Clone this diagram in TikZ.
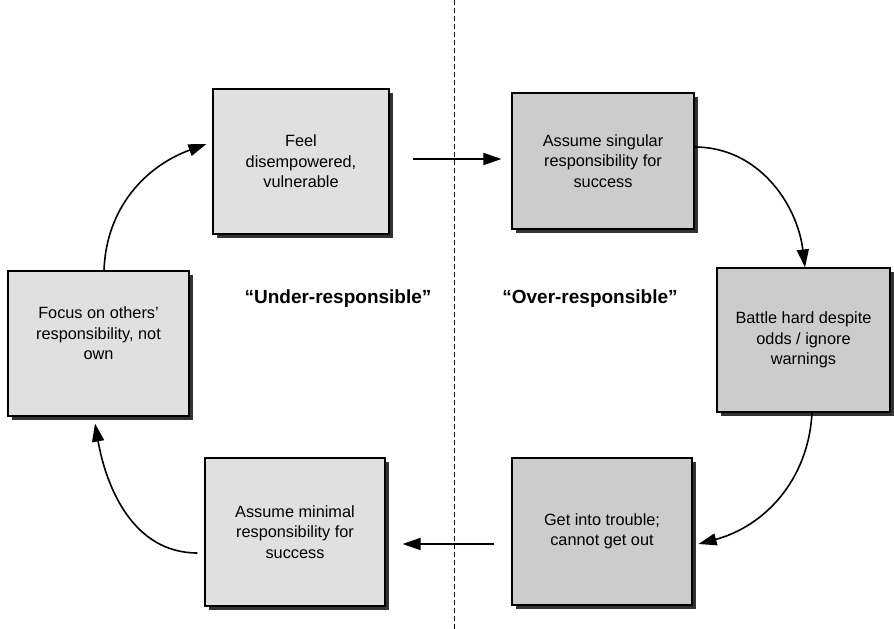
\documentclass[tikz,border=0pt]{standalone}
\usepackage{fontspec}
\setmainfont{Liberation Sans}
\usetikzlibrary{arrows.meta,shadows}
\begin{document}
\begin{tikzpicture}[x=1pt,y=1pt,
  boxbase/.style={draw=black, line width=1.1pt, align=center, inner sep=4pt,
    font=\fontsize{16.3}{20.5}\selectfont,
    drop shadow={shadow xshift=4pt, shadow yshift=-4pt, fill=black!80, opacity=1}},
  lbox/.style={boxbase, fill=black!12},
  rbox/.style={boxbase, fill=black!20},
  sidelabel/.style={font=\fontsize{19}{22}\selectfont\bfseries},
  arr/.style={line width=1.6pt, -{Triangle[length=18pt,width=12pt]}},
  divider/.style={line width=0.7pt, dash pattern=on 5pt off 3pt}
]
\useasboundingbox (0,0) rectangle (894,629);
\fill[white] (0,0) rectangle (894,629);

\coordinate (dtop) at (454,629);
\coordinate (dbot) at (454,0);
\draw[divider] (dtop) -- (dbot);

\node[lbox, minimum width=176pt, minimum height=145pt] (feel) at (301,467.5)
  {Feel\\disempowered,\\vulnerable};
\node[rbox, minimum width=182pt, minimum height=136pt] (sing) at (603,468)
  {Assume singular\\responsibility for\\success};
\node[lbox, minimum width=181pt, minimum height=145pt] (focus) at (98.5,285.5)
  {Focus on others'\\responsibility, not\\own\\\mbox{}};
\node[rbox, minimum width=173pt, minimum height=144pt] (battle) at (803.5,289)
  {Battle hard despite\\odds / ignore\\warnings};
\node[lbox, minimum width=180pt, minimum height=148pt] (minimal) at (295,97)
  {Assume minimal\\responsibility for\\success};
\node[rbox, minimum width=180pt, minimum height=147pt] (trouble) at (602,97.5)
  {Get into trouble;\\cannot get out};

\node[sidelabel] (under) at (338,330) {“Under-responsible”};
\node[sidelabel] (over) at (590,330) {“Over-responsible”};

% straight arrows
\draw[arr, shorten <=23pt, shorten >=10pt]
  ([yshift=2.5pt]feel.east) -- ([yshift=2pt]sing.west);
\draw[arr, shorten <=17pt, shorten >=17pt]
  ([yshift=-12.5pt]trouble.west) -- ([yshift=-12pt]minimal.east);

% curved arrows
\coordinate (c1s) at ([yshift=14pt]sing.east);
\coordinate (c1e) at ([xshift=1.5pt]battle.north);
\draw[arr] (c1s) to[out=0, in=97] (c1e);

\coordinate (c2s) at ([xshift=8.5pt]battle.south);
\coordinate (c2e) at ([xshift=6pt, yshift=-12.5pt]trouble.east);
\draw[arr] (c2s) to[out=-93, in=15] (c2e);

\coordinate (c3s) at ([xshift=-7pt, yshift=-21pt]minimal.west);
\coordinate (c3e) at ([xshift=-3.5pt, yshift=-7pt]focus.south);
\draw[arr] (c3s) to[out=180, in=-80] (c3e);

\coordinate (c4s) at ([xshift=5.5pt]focus.north);
\coordinate (c4e) at ([xshift=-6pt, yshift=17.5pt]feel.west);
\draw[arr] (c4s) to[out=88, in=200] (c4e);
\end{tikzpicture}
\end{document}
